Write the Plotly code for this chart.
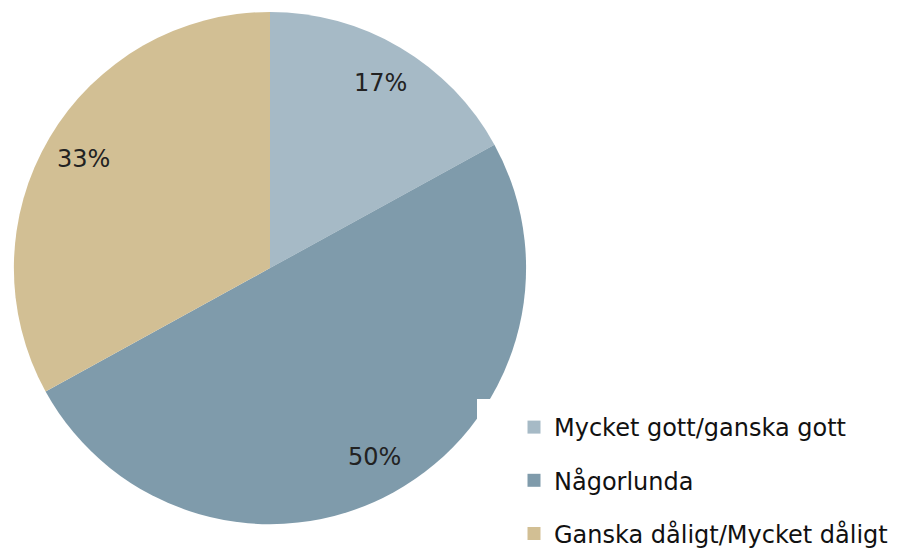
import math
import plotly.graph_objects as go

categories = ["Mycket gott/ganska gott", "Någorlunda", "Ganska dåligt/Mycket dåligt"]
values = [17, 50, 33]
colors = ["#A6BAC6", "#7F9BAB", "#D2BF94"]

W, H = 899, 548
# pie geometry in figure pixels (page is offset by the 8px body margin)
CX, CY, R = 262, 262, 258
LABEL_R = 0.84 * R

fig = go.Figure()
fig.add_trace(go.Pie(
    labels=categories,
    values=values,
    sort=False,
    direction="clockwise",
    rotation=0,
    marker=dict(colors=colors, line=dict(width=0)),
    textinfo="none",
    showlegend=False,
    domain=dict(x=[(CX - R) / W, (CX + R) / W], y=[1 - (CY + R) / H, 1 - (CY - R) / H]),
    hoverinfo="label+percent",
))

# legend entries (one group each so the spacing can match)
for i, (cat, col) in enumerate(zip(categories, colors)):
    fig.add_trace(go.Scatter(
        x=[None], y=[None], mode="markers", name=cat,
        marker=dict(symbol="square", size=13, color=col),
        legendgroup=f"g{i}", showlegend=True, hoverinfo="skip",
    ))

# percentage labels placed at the slice mid-angles
total = sum(values)
annotations = []
cum = 0
for v in values:
    mid = (cum + v / 2) / total * 2 * math.pi
    cum += v
    px = CX + LABEL_R * math.sin(mid)
    py = CY - LABEL_R * math.cos(mid)
    annotations.append(dict(
        x=px / W, y=1 - py / H, xref="paper", yref="paper",
        xanchor="center", yanchor="middle",
        text=f"{round(v / total * 100)}%", showarrow=False,
        font=dict(family="DejaVu Sans", size=24, color="#222222"),
    ))

fig.update_layout(
    width=W, height=H,
    margin=dict(l=0, r=0, t=0, b=0),
    paper_bgcolor="white",
    plot_bgcolor="white",
    xaxis=dict(visible=False, domain=[0.9, 1]),
    yaxis=dict(visible=False, domain=[0.9, 1]),
    showlegend=True,
    annotations=annotations,
    shapes=[dict(type="rect", xref="paper", yref="paper", layer="above",
                 x0=469 / W, x1=560 / W, y0=0, y1=1 - 394 / H,
                 fillcolor="white", line=dict(width=0))],
    legend=dict(
        x=506 / W, xanchor="left",
        y=1 - 400 / H, yanchor="top",
        bgcolor="rgba(0,0,0,0)",
        font=dict(family="DejaVu Sans", size=24, color="#111111"),
        tracegroupgap=19,
        traceorder="grouped",
    ),
)

fig.write_html("out.html")
